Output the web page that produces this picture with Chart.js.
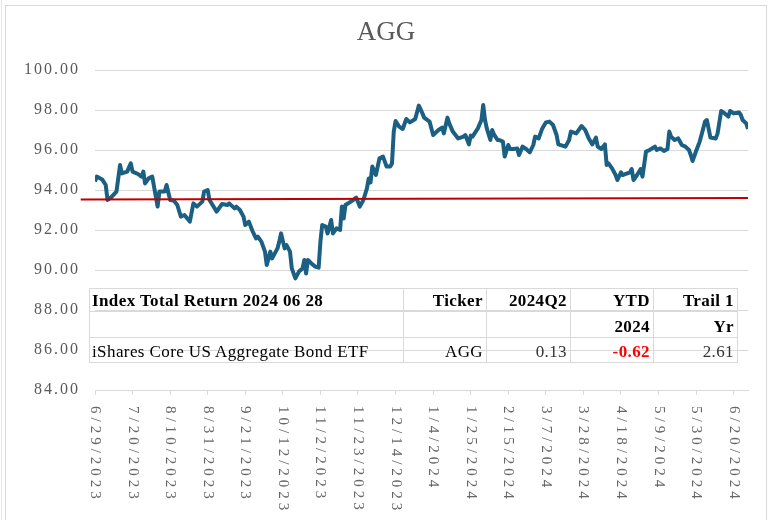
<!DOCTYPE html>
<html>
<head>
<meta charset="utf-8">
<script src="https://cdn.jsdelivr.net/npm/chart.js@4.4.1/dist/chart.umd.min.js"></script>
<style>
  body { margin: 0; background: #fff; }
  #frame { position: absolute; left: 5px; top: 5px; width: 760px; height: 530px; border: 1px solid #d9d9d9; }
  #edge { position: absolute; left: 1px; top: 0; width: 0; height: 520px; border-left: 1px solid #e6e6e6; }
  #agg_chart { position: absolute; left: 0; top: 0; }
  #ret_table { position: absolute; left: 89px; top: 288px; width: 648px; border-collapse: collapse; table-layout: fixed;
    font-family: "Liberation Serif", serif; font-size: 17px; letter-spacing: 0.4px; color: #000; }
  #ret_table td { border: 1px solid #d9d9d9; padding: 0 3px 2px 2px; text-align: right; vertical-align: bottom;
    line-height: 17px; white-space: nowrap; overflow: hidden; }
  #ret_table td.first { text-align: left; }
  #ret_table tr.r1 td { height: 20px; }
  #ret_table tr.r2 td { height: 23px; }
  #ret_table tr.r3 td { height: 22px; }
  #ret_table .b { font-weight: bold; }
  #ret_table .neg { color: #ff0000; font-weight: bold; }
  #ret_table .num { color: #333; }
</style>
</head>
<body>
<div id="frame"></div>
<div id="edge"></div>
<canvas id="agg_chart" width="772" height="520"></canvas>
<table id="ret_table">
  <colgroup><col style="width:314px"><col style="width:83px"><col style="width:84px"><col style="width:83px"><col style="width:84px"></colgroup>
  <tbody></tbody>
</table>
<script>
var chartTitle = "AGG";
var startDate = new Date(2023, 5, 29);

var tickLabels = ["6/29/2023", "7/20/2023", "8/10/2023", "8/31/2023", "9/21/2023", "10/12/2023",
  "11/2/2023", "11/23/2023", "12/14/2023", "1/4/2024", "1/25/2024", "2/15/2024", "3/7/2024",
  "3/28/2024", "4/18/2024", "5/9/2024", "5/30/2024", "6/20/2024"];

// days after 6/29/2023
var dayOffsets = [0, 1, 4, 6, 7, 9, 12, 14, 15, 18, 20, 21, 24, 26, 27, 28, 30, 32, 33, 35,
  36, 39, 40, 42, 44, 46, 48, 50, 53, 55, 57, 60, 61, 63, 64, 68, 71, 74, 75, 78,
  79, 81, 83, 84, 86, 88, 90, 91, 93, 95, 96, 98, 99, 102, 103, 104, 106, 107, 109, 110,
  112, 114, 116, 117, 118, 119, 121, 123, 125, 126, 127, 129, 130, 132, 133, 135, 137, 138, 139, 140,
  143, 146, 148, 150, 152, 153, 154, 155, 157, 159, 161, 163, 165, 166, 167, 168, 170, 172, 174, 176,
  179, 181, 183, 184, 187, 189, 192, 194, 195, 197, 198, 200, 203, 206, 207, 209, 210, 211, 214, 216,
  217, 218, 219, 221, 222, 223, 225, 226, 228, 229, 231, 232, 234, 236, 237, 239, 241, 243, 245, 246,
  248, 250, 252, 254, 256, 258, 259, 263, 265, 266, 269, 272, 274, 276, 278, 280, 281, 283, 285, 286,
  287, 289, 291, 292, 294, 295, 296, 299, 300, 301, 303, 305, 306, 308, 310, 313, 314, 316, 318, 320,
  321, 322, 324, 326, 328, 330, 332, 333, 334, 336, 338, 339, 341, 342, 344, 347, 348, 350, 352, 354,
  355, 357, 360, 361, 362, 364, 365];

var aggPrices = [94.42, 94.67, 94.53, 94.25, 93.50, 93.63, 93.92, 95.25, 94.83, 94.92, 95.33, 94.92, 94.80, 94.67, 94.92, 94.33, 94.58, 94.67, 94.17, 93.17,
  93.92, 93.92, 94.25, 93.50, 93.47, 93.25, 92.67, 92.75, 92.42, 93.33, 93.17, 93.42, 93.92, 94.00, 93.50, 92.92, 93.30, 93.25, 93.33, 93.08,
  93.17, 93.00, 92.67, 92.25, 92.42, 91.95, 91.58, 91.67, 91.42, 90.92, 90.25, 90.92, 90.58, 91.08, 91.42, 91.83, 91.08, 91.25, 90.92, 90.08,
  89.58, 89.92, 90.08, 90.50, 89.83, 90.50, 90.33, 90.17, 90.12, 91.42, 92.25, 92.17, 91.83, 92.50, 91.83, 92.08, 92.00, 93.17, 92.58, 93.25,
  93.42, 93.62, 93.17, 93.50, 94.08, 94.58, 94.38, 95.17, 94.75, 95.58, 95.67, 95.17, 95.17, 95.33, 96.92, 97.45, 97.17, 97.05, 97.55, 97.38,
  97.55, 98.22, 97.83, 97.62, 97.42, 96.75, 97.00, 97.12, 96.83, 97.62, 97.33, 96.92, 96.58, 96.67, 96.75, 96.28, 96.72, 96.67, 97.08, 97.50,
  98.25, 97.50, 97.08, 96.50, 97.00, 96.78, 96.50, 96.50, 96.42, 95.67, 96.25, 96.05, 96.05, 96.08, 95.75, 96.17, 96.05, 95.88, 96.25, 96.67,
  96.58, 97.08, 97.38, 97.42, 97.25, 96.75, 96.28, 96.17, 96.50, 96.92, 96.83, 97.20, 97.00, 96.58, 96.28, 96.62, 96.17, 96.05, 96.28, 95.25,
  95.33, 95.08, 94.75, 94.50, 94.88, 94.75, 94.78, 94.88, 95.05, 94.50, 94.75, 95.05, 94.67, 95.92, 96.00, 96.17, 96.00, 96.08, 95.95, 96.05,
  96.92, 96.67, 96.50, 96.58, 96.25, 96.17, 96.00, 95.75, 95.45, 95.95, 96.42, 96.75, 97.42, 97.50, 96.62, 96.58, 96.83, 97.95, 97.83, 97.67,
  97.95, 97.83, 97.88, 97.75, 97.50, 97.33, 97.05];

// red reference line, end points
var refDays = [-8, 365];
var refLevels = [93.53, 93.60];

var tableHead = ["Index Total Return 2024 06 28", "Ticker", "2024Q2", "YTD", "Trail 1"];
var tableSub = ["", "", "", "2024", "Yr"];
var tableRow = ["iShares Core US Aggregate Bond ETF", "AGG", "0.13", "-0.62", "2.61"];

function dayOf(label) {
  var p = label.split("/");
  return Math.round((new Date(+p[2], +p[0] - 1, +p[1]) - startDate) / 86400000);
}

// fill the return table
var tbody = document.querySelector("#ret_table tbody");
function addRow(cells, cls, cellClass) {
  var tr = document.createElement("tr");
  tr.className = cls;
  cells.forEach(function (txt, i) {
    var td = document.createElement("td");
    td.textContent = txt;
    var c = cellClass(i, txt);
    if (i == 0) c += " first";
    td.className = c;
    tr.appendChild(td);
  });
  tbody.appendChild(tr);
}
addRow(tableHead, "r1", function () { return "b"; });
addRow(tableSub, "r2", function () { return "b"; });
addRow(tableRow, "r3", function (i, txt) {
  if (i < 2) return "";
  return Number(txt) < 0 ? "neg" : "num";
});

var aggDecor = {
  id: "aggDecor",
  beforeDraw: function (chart) {
    chart.ctx.letterSpacing = "2px";
  },
  afterDraw: function (chart) {
    var ctx = chart.ctx;
    var xs = chart.scales.x;
    ctx.save();
    ctx.letterSpacing = "0px";
    ctx.fillStyle = "#595959";
    ctx.font = '27px "Liberation Serif"';
    ctx.textAlign = "center";
    ctx.textBaseline = "middle";
    ctx.fillText(chartTitle, 386, 33);

    ctx.font = '15px "Liberation Serif"';
    ctx.letterSpacing = "4px";
    ctx.fillStyle = "#666666";
    ctx.textAlign = "left";
    tickLabels.forEach(function (lbl) {
      var x = xs.getPixelForValue(dayOf(lbl));
      ctx.save();
      ctx.translate(x, 406);
      ctx.rotate(Math.PI / 2);
      ctx.fillText(lbl, 0, 0);
      ctx.restore();
    });
    ctx.restore();
    ctx.letterSpacing = "0px";
  }
};

var ctx = document.getElementById("agg_chart").getContext("2d");
var agg_chart = new Chart(ctx, {
  type: "line",
  data: {
    datasets: [{
      label: "AGG",
      data: dayOffsets.map(function (d, i) { return { x: d, y: aggPrices[i] }; }),
      borderColor: "#1b5f82",
      borderWidth: 4,
      borderJoinStyle: "round",
      pointRadius: 0,
      tension: 0,
      order: 1
    }, {
      label: "ref",
      data: refDays.map(function (d, i) { return { x: d, y: refLevels[i] }; }),
      borderColor: "#c00000",
      borderWidth: 2,
      pointRadius: 0,
      clip: false,
      order: 0
    }]
  },
  options: {
    responsive: false,
    animation: false,
    layout: { padding: { top: 70, right: 24, left: 0, bottom: 0 } },
    plugins: {
      legend: { display: false },
      tooltip: { enabled: false },
      title: { display: false }
    },
    scales: {
      x: {
        type: "linear",
        min: 0,
        max: 365,
        afterBuildTicks: function (s) {
          s.ticks = tickLabels.map(function (l) { return { value: dayOf(l) }; });
        },
        afterFit: function (s) { s.height = 130; },
        ticks: { display: false },
        grid: { drawOnChartArea: false, drawTicks: true, tickLength: 5, color: "#d9d9d9" },
        border: { color: "#d9d9d9" }
      },
      y: {
        min: 84,
        max: 100,
        afterFit: function (s) { s.width = 95; },
        ticks: {
          stepSize: 2,
          padding: 15,
          color: "#595959",
          font: { family: "Liberation Serif", size: 16 },
          callback: function (v) { return v.toFixed(2); }
        },
        grid: { color: "#d9d9d9", drawTicks: false },
        border: { display: false }
      }
    }
  },
  plugins: [aggDecor]
});
</script>
</body>
</html>
